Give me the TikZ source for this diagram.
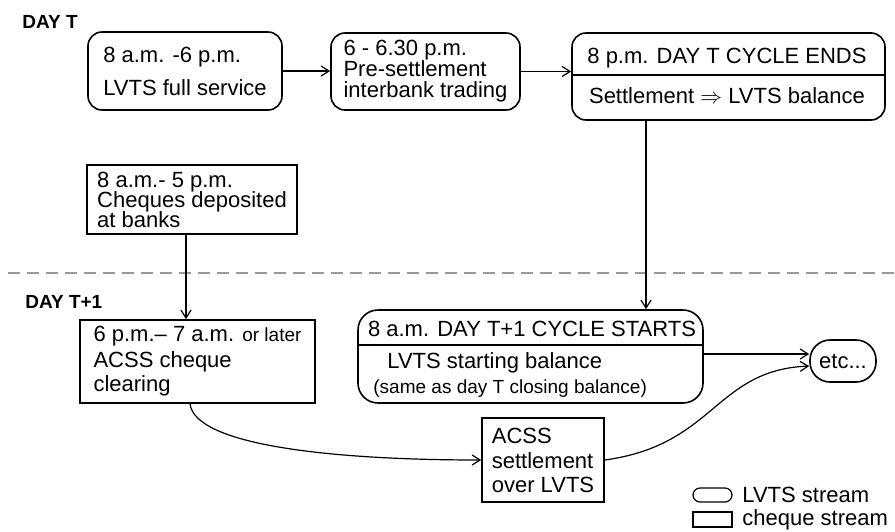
\documentclass[tikz,border=0pt]{standalone}
\usepackage{fontspec}
\setmainfont{Liberation Sans}
\usetikzlibrary{arrows.meta}

\begin{document}
\begin{tikzpicture}[x=0.5pt,y=-0.5pt,
    font=\fontsize{11}{11}\selectfont,
    >={Straight Barb[length=4pt,width=5pt]},
    lvts/.style={draw, line width=0.8pt, rounded corners=7pt, inner sep=0pt, align=left},
    cheque/.style={draw, line width=0.8pt, inner sep=0pt, align=left},
    txt/.style={inner sep=0pt, anchor=base west},
    day/.style={txt, font=\fontsize{9.5}{11}\selectfont\bfseries},
    flow/.style={->, line width=0.6pt},
    sep/.style={line width=1.2pt, gray!80, dash pattern=on 6pt off 3.5pt}]
    \useasboundingbox (0,0) rectangle (895,531);

    \node[day] (dayT) at (22,28) {DAY T};
    \node[day] (dayT1) at (25,308) {DAY T+1};
    \draw[sep] (8,273) -- (895,273);

    % day T
    \node[lvts, minimum width=97pt, minimum height=39pt] (svc) at (185,71)
        {8 a.m. -6 p.m.\\[5.5pt]LVTS full service};
    \node[lvts, minimum width=94.5pt, minimum height=38.5pt] (pre) at (425.5,71.5)
        {6 - 6.30 p.m.\\[-0.5pt]Pre-settlement\\[-0.5pt]interbank trading};
    \node[lvts, minimum width=156.5pt, minimum height=43.5pt] (ends) at (728.5,76.5) {};
    \draw[line width=0.8pt] (ends.west |- 0,75) -- (ends.east |- 0,75);
    \node[txt, anchor=base] (endsA) at (727,63) {8 p.m. DAY T CYCLE ENDS};
    \node[txt, anchor=base] (endsB) at (727,103) {Settlement $\Rightarrow$ LVTS balance};
    \node[cheque, minimum width=105pt, minimum height=34.5pt] (dep) at (192,199.5)
        {8 a.m.- 5 p.m.\\[-1pt]Cheques deposited\\[-1pt]at banks};

    % day T+1
    \node[cheque, minimum width=117.5pt, minimum height=41.5pt] (clr) at (197.5,361.5)
        {6 p.m.-- 7 a.m. {\fontsize{9.5}{11}\selectfont or later}\\[2pt]ACSS cheque\\[1pt]clearing};
    \node[lvts, rounded corners=10pt, minimum width=172.5pt, minimum height=46.5pt] (starts) at (530.5,356.5) {};
    \draw[line width=0.8pt] (starts.west |- 0,345) -- (starts.east |- 0,345);
    \node[txt, anchor=base] (startsA) at (532,336) {8 a.m. DAY T+1 CYCLE STARTS};
    \node[txt] (startsB) at (387,368) {LVTS starting balance};
    \node[txt, font=\fontsize{9.5}{11}\selectfont] (startsC) at (373,393) {(same as day T closing balance)};
    \node[lvts, rounded corners=10pt, minimum width=33pt, minimum height=21pt] (etc) at (843,361) {etc...};
    \node[cheque, minimum width=61pt, minimum height=42pt] (set) at (543,460)
        {ACSS\\[1.5pt]settlement\\[1pt]over LVTS};

    \draw[flow] (svc.east) -- (pre.west |- svc.east);
    \draw[flow] (pre.east) -- (pre.east -| ends.west);
    \draw[flow] (ends.south -| 646,0) -- (starts.north -| 646,0);
    \draw[flow] (dep.south -| 186,0) -- (clr.north -| 186,0);
    \draw[flow] (starts.east |- 0,354) -- (etc.west |- 0,354);
    \draw[flow] (clr.south -| 190,0) .. controls (195,445) and (330,460) .. (set.west);
    \draw[flow] (set.east) .. controls (715,445) and (715,370) .. (etc.west |- 0,366);

    % key
    \node[lvts, line width=0.6pt, rounded corners=3.5pt, minimum width=19.5pt, minimum height=7pt] (keyL) at (712.5,495) {};
    \node[txt, anchor=west] (keyLtxt) at (742,495) {LVTS stream};
    \node[cheque, line width=0.6pt, minimum width=19.5pt, minimum height=7.5pt] (keyC) at (712.5,519.5) {};
    \node[txt, anchor=west] (keyCtxt) at (742,519.5) {cheque stream};
\end{tikzpicture}
\end{document}
